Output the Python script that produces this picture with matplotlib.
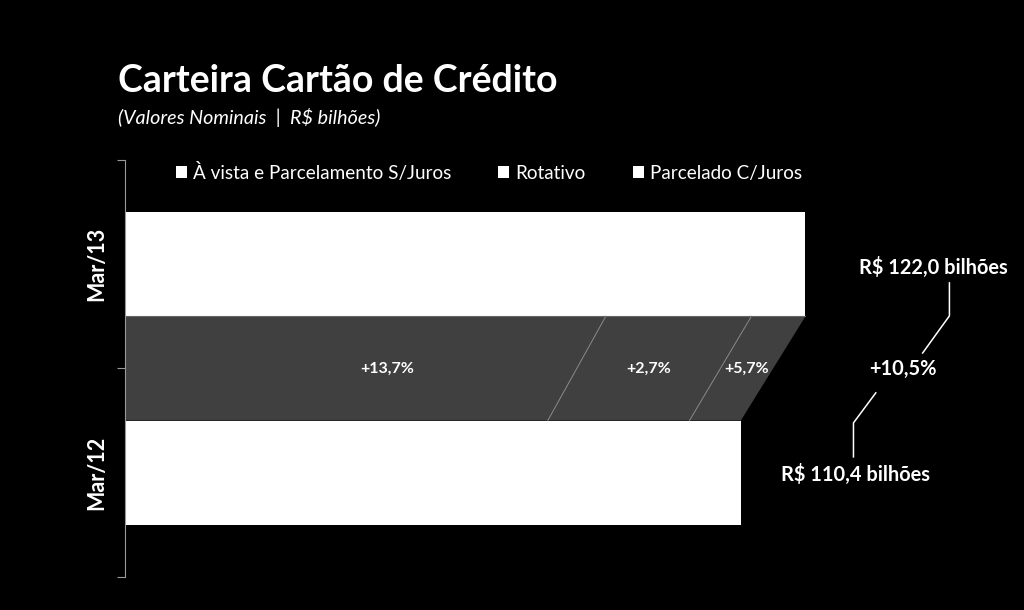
import matplotlib.pyplot as plt
from matplotlib.ticker import FixedLocator

plt.rcParams["font.family"] = ["Lato", "DejaVu Sans"]

periods = ["Mar/12", "Mar/13"]
series = ["À vista e Parcelamento S/Juros", "Rotativo", "Parcelado C/Juros"]
mar12 = [75.8, 25.4, 9.2]
mar13 = [86.2, 26.1, 9.7]
growth = ["+13,7%", "+2,7%", "+5,7%"]
totals = ["R$ 110,4 bilhões", "R$ 122,0 bilhões"]
total_growth = "+10,5%"

BG = "#000000"
GRAY = "#404040"
BAR_H = 0.5

fig = plt.figure(figsize=(10.24, 6.10), dpi=100, facecolor=BG)
ax = fig.add_axes([0.122, 0.054, 0.864, 0.684])
ax.set_facecolor(BG)

# stacked white bars
left12 = left13 = 0
for i, name in enumerate(series):
    ax.barh(0, mar12[i], left=left12, height=BAR_H, color="white", label=name)
    ax.barh(1, mar13[i], left=left13, height=BAR_H, color="white")
    left12 += mar12[i]
    left13 += mar13[i]

# connector band between the two bars
y0, y1 = BAR_H / 2, 1 - BAR_H / 2
tot12, tot13 = sum(mar12), sum(mar13)
ax.fill([0, tot12, tot13, 0], [y0, y0, y1, y1], color=GRAY, lw=0)
c12 = c13 = 0
nudge = [6.5, 0, 0]
for i in range(len(series)):
    mid = (c12 + c13 + (mar12[i] + mar13[i]) / 2) / 2 + nudge[i]
    ax.text(mid, 0.5, growth[i], color="white", fontsize=11.5, fontweight="bold",
            ha="center", va="center")
    c12 += mar12[i]
    c13 += mar13[i]
    if i < len(series) - 1:
        ax.plot([c12, c13], [y0, y1], color="#8a8a8a", lw=0.7)
ax.plot([0, tot13], [y1, y1], color="#666666", lw=0.8)

ax.set_xlim(0, 158.6)
ax.set_ylim(-0.5, 1.5)
ax.set_xticks([])
ax.set_yticks([0, 1])
ax.set_yticklabels(periods, rotation=90, va="center", color="white",
                   fontsize=15.5, fontweight="bold")
ax.yaxis.set_minor_locator(FixedLocator([-0.5, 0.5, 1.5]))
ax.tick_params(axis="y", which="major", length=0, pad=13)
ax.tick_params(axis="y", which="minor", length=6, color="#999999", width=0.8)
for s in ["top", "right", "bottom"]:
    ax.spines[s].set_visible(False)
ax.spines["left"].set_color("#999999")
ax.spines["left"].set_linewidth(0.8)

# total labels and leader lines
kw = dict(color="white", fontsize=14.4, fontweight="bold", ha="center", va="center")
ax.text(145.0, 0.982, totals[1], **kw)
ax.text(139.4, 0.498, total_growth, **kw)
ax.text(131.0, -0.01, totals[0], **kw)
ax.plot([147.8, 147.8, 143.0], [0.91, 0.752, 0.574], color="white", lw=1.1)
ax.plot([134.6, 130.6, 130.6], [0.383, 0.239, 0.076], color="white", lw=1.1)

leg = ax.legend(loc="center left", bbox_to_anchor=(0.038, 0.97), ncol=3,
                frameon=False, fontsize=13.6, handlelength=0.6, handleheight=0.6,
                handletextpad=0.3, columnspacing=2.5)
for t in leg.get_texts():
    t.set_color("white")

fig.text(0.115, 0.868, "Carteira Cartão de Crédito", color="white", fontsize=27,
         fontweight="bold", ha="left", va="center")
fig.text(0.115, 0.808, "(Valores Nominais  |  R$ bilhões)", color="white",
         fontsize=14.2, fontstyle="italic", ha="left", va="center")

fig.savefig("out.png", facecolor=BG)
